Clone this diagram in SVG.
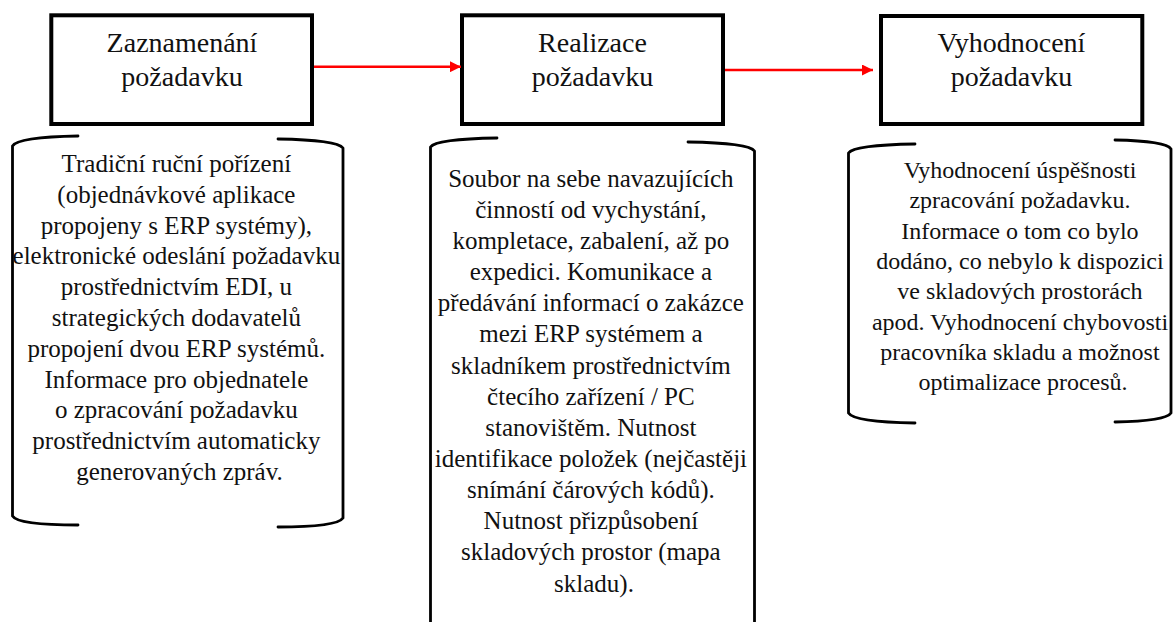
<svg xmlns="http://www.w3.org/2000/svg" width="1173" height="622" viewBox="0 0 1173 622">
  <defs>
    <marker id="arrow" viewBox="0 0 10 10" refX="10" refY="5" markerWidth="13" markerHeight="11" markerUnits="userSpaceOnUse" orient="auto">
      <path d="M0,0 L10,5 L0,10 Z" fill="#ff0000"/>
    </marker>
    <style>
      .step { fill: #ffffff; stroke: #000000; stroke-width: 4; }
      .title { font-family: 'Liberation Serif', 'DejaVu Serif', serif; font-size: 28px; fill: #111111; text-anchor: middle; }
      .body { font-family: 'Liberation Serif', 'DejaVu Serif', serif; font-size: 25px; fill: #111111; text-anchor: middle; }
      .body.small { font-size: 24px; }
      .bracket { fill: none; stroke: #000000; stroke-width: 2.8; stroke-linecap: round; stroke-linejoin: round; }
      .flow { fill: none; stroke: #ff0000; stroke-width: 2.6; }
    </style>
  </defs>
  <rect width="1173" height="622" fill="#ffffff"/>

  <!-- process steps -->
  <g id="step-zaznamenani">
    <rect class="step" x="51.3" y="15.3" width="260.7" height="108.7"/>
    <text class="title" x="182" y="52">Zaznamenání</text>
    <text class="title" x="182" y="86">požadavku</text>
  </g>
  <g id="step-realizace">
    <rect class="step" x="462" y="15.3" width="261" height="108.7"/>
    <text class="title" x="592.5" y="52">Realizace</text>
    <text class="title" x="592.5" y="86">požadavku</text>
  </g>
  <g id="step-vyhodnoceni">
    <rect class="step" x="881" y="16" width="261.3" height="108"/>
    <text class="title" x="1011.5" y="52">Vyhodnocení</text>
    <text class="title" x="1011.5" y="86">požadavku</text>
  </g>

  <!-- descriptions in brackets -->
  <g id="desc-zaznamenani">
    <path class="bracket" d="M78,136 Q18,137 12.5,146 L12.5,516 Q18,525 78,525"/>
    <path class="bracket" d="M278,139 Q337,140 343,148 L343,518 Q337,527 278,527"/>
    <text class="body" x="179.5" y="172">
      <tspan x="179.5" dy="0">Tradiční ruční pořízení</tspan>
      <tspan x="179.5" dy="30.8">(objednávkové aplikace</tspan>
      <tspan x="179.5" dy="30.8">propojeny s ERP systémy),</tspan>
      <tspan x="179.5" dy="30.8">elektronické odeslání požadavku</tspan>
      <tspan x="179.5" dy="30.8">prostřednictvím EDI, u</tspan>
      <tspan x="179.5" dy="30.8">strategických dodavatelů</tspan>
      <tspan x="179.5" dy="30.8">propojení dvou ERP systémů.</tspan>
      <tspan x="179.5" dy="30.8">Informace pro objednatele</tspan>
      <tspan x="179.5" dy="30.8">o zpracování požadavku</tspan>
      <tspan x="179.5" dy="30.8">prostřednictvím automaticky</tspan>
      <tspan x="179.5" dy="30.8">generovaných zpráv.</tspan>
    </text>
  </g>
  <g id="desc-realizace">
    <path class="bracket" d="M497,138 Q436,139 430.5,147 L430.5,630"/>
    <path class="bracket" d="M688,142 Q749,143 754.5,151 L754.5,630"/>
    <text class="body" x="594" y="186.7">
      <tspan x="594" dy="0">Soubor na sebe navazujících</tspan>
      <tspan x="594" dy="31.15">činností od vychystání,</tspan>
      <tspan x="594" dy="31.15">kompletace, zabalení, až po</tspan>
      <tspan x="594" dy="31.15">expedici. Komunikace a</tspan>
      <tspan x="594" dy="31.15">předávání informací o zakázce</tspan>
      <tspan x="594" dy="31.15">mezi ERP systémem a</tspan>
      <tspan x="594" dy="31.15">skladníkem prostřednictvím</tspan>
      <tspan x="594" dy="31.15">čtecího zařízení / PC</tspan>
      <tspan x="594" dy="31.15">stanovištěm. Nutnost</tspan>
      <tspan x="594" dy="31.15">identifikace položek (nejčastěji</tspan>
      <tspan x="594" dy="31.15">snímání čárových kódů).</tspan>
      <tspan x="594" dy="31.15">Nutnost přizpůsobení</tspan>
      <tspan x="594" dy="31.15">skladových prostor (mapa</tspan>
      <tspan x="594" dy="31.15">skladu).</tspan>
    </text>
  </g>
  <g id="desc-vyhodnoceni">
    <path class="bracket" d="M915,144 Q854,145 848.5,153 L848.5,413 Q854,422 915,423"/>
    <path class="bracket" d="M1115,140 Q1166,141 1171,149 L1171,413 Q1166,421 1115,422"/>
    <text class="body small" x="1023" y="178">
      <tspan x="1023" dy="0">Vyhodnocení úspěšnosti</tspan>
      <tspan x="1023" dy="30.3">zpracování požadavku.</tspan>
      <tspan x="1023" dy="30.3">Informace o tom co bylo</tspan>
      <tspan x="1023" dy="30.3">dodáno, co nebylo k dispozici</tspan>
      <tspan x="1023" dy="30.3">ve skladových prostorách</tspan>
      <tspan x="1023" dy="30.3">apod. Vyhodnocení chybovosti</tspan>
      <tspan x="1023" dy="30.3">pracovníka skladu a možnost</tspan>
      <tspan x="1023" dy="30.3">optimalizace procesů.</tspan>
    </text>
  </g>

  <!-- connectors -->
  <g id="connectors">
    <line class="flow" x1="314" y1="66.7" x2="461" y2="66.7" marker-end="url(#arrow)"/>
    <line class="flow" x1="725" y1="70" x2="873" y2="70" marker-end="url(#arrow)"/>
  </g>
</svg>
